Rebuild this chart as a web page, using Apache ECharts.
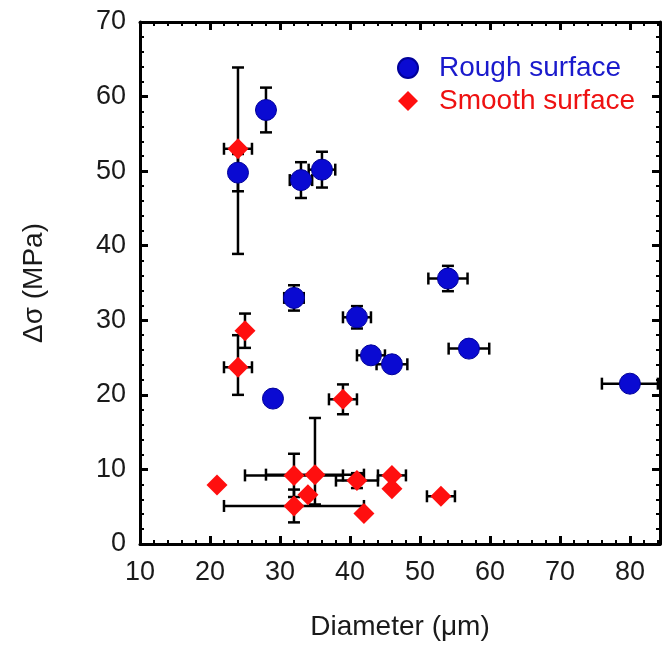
<!DOCTYPE html>
<html>
<head>
<meta charset="utf-8">
<script src="https://cdn.jsdelivr.net/npm/echarts@6/dist/echarts.min.js"></script>
<style>html,body{margin:0;padding:0;background:#fff}#c{width:662px;height:646px}</style>
</head>
<body>
<div id="c"></div>
<script>
// Rough surface data
const roughX     = [24, 28, 33, 36, 32, 41, 43, 46, 54, 57, 80, 29];
const roughY     = [49.8, 58.2, 48.8, 50.2, 33.0, 30.4, 25.3, 24.1, 35.6, 26.2, 21.5, 19.5];
const roughXErr  = [0, 0, 1.6, 1.9, 1.4, 2.0, 2.0, 2.2, 2.8, 2.9, 4.0, 0];
const roughYErr  = [2.5, 3.0, 2.4, 2.4, 1.7, 1.5, 0, 0, 1.7, 0, 0, 0];
// Smooth surface data
const smoothX    = [24, 25, 24, 39, 21, 32, 35, 34, 32, 41, 42, 46, 46, 53];
const smoothY    = [53.0, 28.6, 23.7, 19.4, 7.9, 9.2, 9.3, 6.6, 5.1, 8.5, 4.1, 9.2, 7.4, 6.4];
const smoothXErr = [2, 0, 2, 2, 0, 7, 7, 0, 10, 3, 0, 2, 0, 2];
const smoothYErrMinus = [14.1, 2.3, 3.7, 2.0, 0, 2.9, 4.0, 0, 2.2, 1.0, 0, 0, 0, 0];
const smoothYErrPlus  = [10.9, 2.3, 4.3, 2.0, 0, 2.9, 7.6, 0, 2.2, 1.0, 0, 0, 0, 0];
// Axis ticks
const xTicks = {min: 10, max: 84.3, interval: 10};
const yTicks = {min: 0, max: 70, interval: 10};

const errRough = roughX.map((x, i) => [x, roughY[i], roughXErr[i], roughXErr[i], roughYErr[i], roughYErr[i]]);
const errSmooth = smoothX.map((x, i) => [x, smoothY[i], smoothXErr[i], smoothXErr[i], smoothYErrMinus[i], smoothYErrPlus[i]]);

const CAP = 6;
function renderErr(params, api) {
  const x = api.value(0), y = api.value(1);
  const xm = api.value(2), xp = api.value(3), ym = api.value(4), yp = api.value(5);
  const st = {stroke: '#000', lineWidth: 2.5};
  const ch = [];
  if (xm || xp) {
    const a = api.coord([x - xm, y]), b = api.coord([x + xp, y]);
    ch.push({type: 'line', shape: {x1: a[0], y1: a[1], x2: b[0], y2: b[1]}, style: st});
    ch.push({type: 'line', shape: {x1: a[0], y1: a[1] - CAP, x2: a[0], y2: a[1] + CAP}, style: st});
    ch.push({type: 'line', shape: {x1: b[0], y1: b[1] - CAP, x2: b[0], y2: b[1] + CAP}, style: st});
  }
  if (ym || yp) {
    const a = api.coord([x, y - ym]), b = api.coord([x, y + yp]);
    ch.push({type: 'line', shape: {x1: a[0], y1: a[1], x2: b[0], y2: b[1]}, style: st});
    ch.push({type: 'line', shape: {x1: a[0] - CAP, y1: a[1], x2: a[0] + CAP, y2: a[1]}, style: st});
    ch.push({type: 'line', shape: {x1: b[0] - CAP, y1: b[1], x2: b[0] + CAP, y2: b[1]}, style: st});
  }
  return {type: 'group', children: ch};
}

const font = 'Liberation Sans, Arial, sans-serif';
const axisBase = {
  axisLine: {show: true, onZero: false, lineStyle: {color: '#000', width: 3}},
  axisTick: {show: true, inside: true, length: 8, lineStyle: {color: '#000', width: 3}},
  minorTick: {show: true, splitNumber: 5, length: 4, lineStyle: {color: '#000', width: 2}},
  splitLine: {show: false}
};

const chart = echarts.init(document.getElementById('c'));
chart.setOption({
  animation: false,
  backgroundColor: '#fff',
  grid: {left: 140, right: 2, top: 22, bottom: 99},
  legend: {
    orient: 'vertical', left: 392, top: 49, itemWidth: 20, itemHeight: 20, itemGap: 5,
    textStyle: {fontFamily: font, fontSize: 28, padding: [0, 0, 0, 16]},
    data: [
      {name: 'Rough surface', textStyle: {color: '#1a1acc'}},
      {name: 'Smooth surface', textStyle: {color: '#ee1111'}}
    ]
  },
  xAxis: [
    Object.assign({}, axisBase, {
      type: 'value', position: 'bottom', min: xTicks.min, max: xTicks.max, interval: xTicks.interval,
      name: 'Diameter (μm)', nameLocation: 'middle', nameGap: 69,
      nameTextStyle: {fontFamily: font, fontSize: 28, color: '#1a1a1a'},
      axisLabel: {fontFamily: font, fontSize: 27, color: '#1a1a1a', margin: 15, showMaxLabel: false}
    }),
    Object.assign({}, axisBase, {
      type: 'value', position: 'top', min: xTicks.min, max: xTicks.max, interval: xTicks.interval,
      axisLabel: {show: false}
    })
  ],
  yAxis: [
    Object.assign({}, axisBase, {
      type: 'value', position: 'left', min: yTicks.min, max: yTicks.max, interval: yTicks.interval,
      name: 'Δσ (MPa)', nameLocation: 'middle', nameGap: 92,
      nameTextStyle: {fontFamily: font, fontSize: 28, color: '#1a1a1a'},
      axisLabel: {fontFamily: font, fontSize: 27, color: '#1a1a1a', margin: 14}
    }),
    Object.assign({}, axisBase, {
      type: 'value', position: 'right', min: yTicks.min, max: yTicks.max, interval: yTicks.interval,
      axisLabel: {show: false}
    })
  ],
  series: [
    {type: 'custom', name: 'errRough', renderItem: renderErr, data: errRough,
     encode: {x: 0, y: 1}, z: 1, silent: true, clip: false},
    {type: 'custom', name: 'errSmooth', renderItem: renderErr, data: errSmooth,
     encode: {x: 0, y: 1}, z: 1, silent: true, clip: false},
    {type: 'scatter', name: 'Rough surface', symbol: 'circle', symbolSize: 21, z: 3,
     itemStyle: {color: '#0a0ad2', borderColor: '#00009a', borderWidth: 1, opacity: 1},
     data: roughX.map((x, i) => [x, roughY[i]])},
    {type: 'scatter', name: 'Smooth surface', symbol: 'diamond', symbolSize: 21, z: 4,
     itemStyle: {color: '#ff0f0f', opacity: 1},
     data: smoothX.map((x, i) => [x, smoothY[i]])}
  ]
});
</script>
</body>
</html>
